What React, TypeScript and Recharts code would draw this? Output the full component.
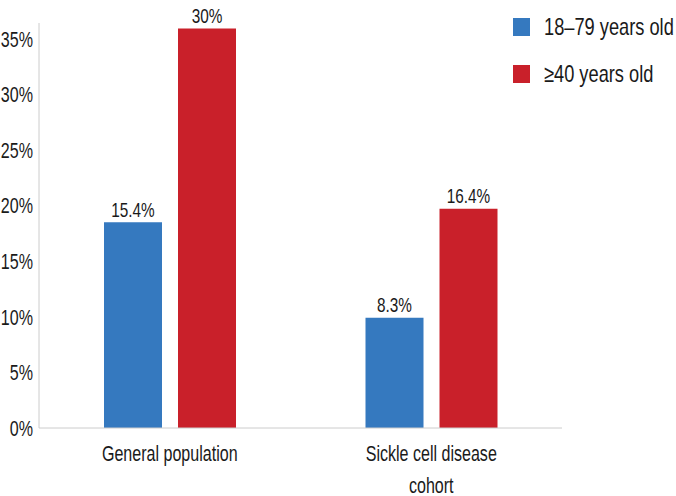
import { Bar, BarChart, LabelList, XAxis, YAxis } from 'recharts'

const categories = ['General population', 'Sickle cell disease cohort']
// bar heights as drawn against the y axis
const youngValues = [18.5, 9.9]
const olderValues = [35.9, 19.7]
// printed value labels above the bars
const youngLabels = ['15.4%', '8.3%']
const olderLabels = ['30%', '16.4%']
const yTicks = [0, 5, 10, 15, 20, 25, 30, 35]
const seriesNames = ['18–79 years old', '≥40 years old']

const BLUE = '#3579bf'
const RED = '#c9202a'
const FONT = '"Liberation Sans", Arial, sans-serif'
const INK = '#1a1a1a'
const SQUEEZE = 0.73 // fake a condensed face

const data = categories.map((name, i) => ({
  name,
  young: youngValues[i],
  older: olderValues[i],
  youngLabel: youngLabels[i],
  olderLabel: olderLabels[i]
}))

function wrap(text: string, max: number) {
  const lines: string[] = []
  let cur = ''
  for (const w of text.split(' ')) {
    const next = cur ? cur + ' ' + w : w
    if (next.length > max && cur) {
      lines.push(cur)
      cur = w
    } else {
      cur = next
    }
  }
  if (cur) lines.push(cur)
  return lines
}

function CategoryTick(props: any) {
  const { x, y, payload } = props
  const lines = wrap(payload.value, 19)
  return (
    <g transform={`translate(${x},${y})`}>
      <text transform={`scale(${SQUEEZE},1)`} textAnchor='middle' fill={INK} fontFamily={FONT} fontSize={22}>
        {lines.map((l, i) => (
          <tspan key={i} x={0} dy={i === 0 ? 31 : 32}>
            {l}
          </tspan>
        ))}
      </text>
    </g>
  )
}

function PercentTick(props: any) {
  const { x, y, payload } = props
  return (
    <g transform={`translate(${x},${y})`}>
      <text transform={`scale(${SQUEEZE},1)`} textAnchor='end' dy='0.36em' fill={INK} fontFamily={FONT} fontSize={22}>
        {`${payload.value}%`}
      </text>
    </g>
  )
}

function ValueLabel(props: any) {
  const { x, y, width, value } = props
  return (
    <g transform={`translate(${x + width / 2},${y - 5.5})`}>
      <text transform={`scale(${SQUEEZE},1)`} textAnchor='middle' fill={INK} fontFamily={FONT} fontSize={21}>
        {value}
      </text>
    </g>
  )
}

function LegendBox() {
  const colors = [BLUE, RED]
  return (
    <div style={{ position: 'absolute', left: 513, top: 18, fontFamily: FONT, fontSize: 24, color: INK }}>
      {seriesNames.map((n, i) => (
        <div key={n} style={{ position: 'relative', height: 18, marginBottom: 29 }}>
          <span style={{ position: 'absolute', left: 0, top: 0, width: 17, height: 18, background: colors[i] }} />
          <span
            style={{
              position: 'absolute',
              left: 31,
              top: -4,
              lineHeight: '26px',
              whiteSpace: 'nowrap',
              transform: 'scaleX(0.76)',
              transformOrigin: 'left center'
            }}
          >
            {n}
          </span>
        </div>
      ))}
    </div>
  )
}

export default function App() {
  return (
    <div style={{ position: 'absolute', left: 0, top: 0, width: 676, height: 496, background: '#fff' }}>
      <BarChart
        width={676}
        height={496}
        data={data}
        margin={{ top: 23, right: 114, left: 0, bottom: 38 }}
        barCategoryGap='24.8%'
        barGap={16}
      >
        <XAxis
          dataKey='name'
          height={30}
          tickLine={false}
          tickSize={0}
          axisLine={{ stroke: '#cccccc' }}
          tick={<CategoryTick />}
          interval={0}
        />
        <YAxis
          width={39}
          domain={[0, 36.4]}
          ticks={yTicks}
          tickLine={false}
          tickSize={0}
          tickMargin={6}
          axisLine={{ stroke: '#cccccc' }}
          tick={<PercentTick />}
          interval={0}
        />
        <Bar dataKey='young' name={seriesNames[0]} fill={BLUE} barSize={58} isAnimationActive={false}>
          <LabelList dataKey='youngLabel' content={<ValueLabel />} />
        </Bar>
        <Bar dataKey='older' name={seriesNames[1]} fill={RED} barSize={58} isAnimationActive={false}>
          <LabelList dataKey='olderLabel' content={<ValueLabel />} />
        </Bar>
      </BarChart>
      <LegendBox />
    </div>
  )
}
